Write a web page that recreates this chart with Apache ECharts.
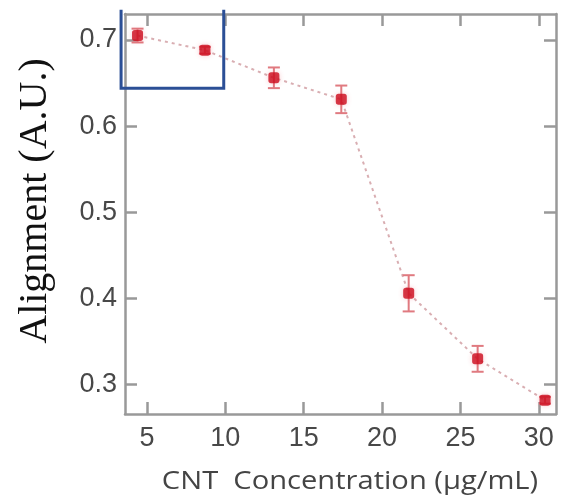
<!DOCTYPE html>
<html>
<head>
<meta charset="utf-8">
<script src="https://cdn.jsdelivr.net/npm/echarts@6/dist/echarts.min.js"></script>
<style>html,body{margin:0;padding:0;background:#fff;}#c{width:564px;height:501px;}</style>
</head>
<body>
<div id="c"></div>
<script>
// Data
var concentration = [4.4, 8.7, 13.1, 17.4, 21.7, 26.1, 30.4];
var alignment = [0.705, 0.688, 0.656, 0.631, 0.406, 0.330, 0.282];
var errorBar = [0.008, 0.004, 0.012, 0.016, 0.021, 0.015, 0.004];
var xTicks = [5, 10, 15, 20, 25, 30];
var yTicks = [0.3, 0.4, 0.5, 0.6, 0.7];
var xRange = [3.6, 31.1];
var yRange = [0.266, 0.730];
var highlightX = [3.35, 9.9];
var highlightY = [0.644, 0.735];
var yTitle = 'Alignment (A.U.)';
var xTitle = 'CNT  Concentration (\u03bcg/mL)';

var points = concentration.map(function (x, i) { return [x, alignment[i]]; });
var errData = concentration.map(function (x, i) { return [x, alignment[i] - errorBar[i], alignment[i] + errorBar[i]]; });

var axisColor = '#999';
var labelFont = { color: '#484848', fontFamily: 'Liberation Sans', fontSize: 27 };
function xAx(pos, showLabel) {
  return {
    type: 'value', position: pos, min: xRange[0], max: xRange[1],
    axisLine: { show: true, onZero: false, lineStyle: { color: axisColor, width: 2.5 } },
    axisTick: { show: true, inside: true, length: 12, customValues: xTicks, lineStyle: { color: axisColor, width: 2.5 } },
    axisLabel: Object.assign({ show: showLabel, customValues: xTicks, margin: 11 }, labelFont),
    splitLine: { show: false }
  };
}
function yAx(pos, showLabel) {
  return {
    type: 'value', position: pos, min: yRange[0], max: yRange[1],
    axisLine: { show: true, onZero: false, lineStyle: { color: axisColor, width: 2.5 } },
    axisTick: { show: true, inside: true, length: 12, customValues: yTicks, lineStyle: { color: axisColor, width: 2.5 } },
    axisLabel: Object.assign({ show: showLabel, customValues: yTicks, margin: 8,
      formatter: function (v) { return v.toFixed(1); } }, labelFont),
    splitLine: { show: false }
  };
}

var chart = echarts.init(document.getElementById('c'), null, { renderer: 'canvas' });
var option = {
  animation: false,
  backgroundColor: '#fff',
  grid: { left: 125, right: 8, top: 14, bottom: 87 },
  xAxis: [xAx('bottom', true), xAx('top', false)],
  yAxis: [yAx('left', true), yAx('right', false)],
  series: [
    {
      type: 'line', data: points, xAxisIndex: 0, yAxisIndex: 0, symbol: 'none', z: 2,
      lineStyle: { color: '#d9aeb2', width: 2, type: [3, 4] }
    },
    {
      type: 'custom', xAxisIndex: 0, yAxisIndex: 0, z: 3, data: errData,
      renderItem: function (params, api) {
        var x = api.value(0);
        var lo = api.coord([x, api.value(1)]);
        var hi = api.coord([x, api.value(2)]);
        var w = 6;
        var st = { stroke: '#e07a80', lineWidth: 2 };
        return { type: 'group', children: [
          { type: 'line', shape: { x1: lo[0], y1: lo[1], x2: hi[0], y2: hi[1] }, style: st },
          { type: 'line', shape: { x1: lo[0] - w, y1: lo[1], x2: lo[0] + w, y2: lo[1] }, style: st },
          { type: 'line', shape: { x1: hi[0] - w, y1: hi[1], x2: hi[0] + w, y2: hi[1] }, style: st }
        ] };
      }
    },
    {
      type: 'scatter', data: points, xAxisIndex: 0, yAxisIndex: 0, z: 4,
      symbol: 'roundRect', symbolSize: 11,
      itemStyle: { color: '#cc0a1c', shadowBlur: 5, shadowColor: 'rgba(235,90,105,0.4)' }
    }
  ],
  graphic: [
    { type: 'text', x: 35, y: 201, rotation: Math.PI / 2,
      style: { text: yTitle, fill: '#111', font: '40px "Liberation Serif"', align: 'center', verticalAlign: 'middle' } },
    { type: 'text', x: 350, y: 482, scaleX: 1.12,
      style: { text: xTitle, fill: '#444', font: '26px "Open Sans"', align: 'center', verticalAlign: 'middle' } }
  ]
};
chart.setOption(option);

var p1 = chart.convertToPixel({ xAxisIndex: 0, yAxisIndex: 0 }, [highlightX[0], highlightY[1]]);
var p2 = chart.convertToPixel({ xAxisIndex: 0, yAxisIndex: 0 }, [highlightX[1], highlightY[0]]);
option.graphic.push({
  type: 'polyline', z: 10,
  shape: { points: [[p1[0], p1[1]], [p1[0], p2[1]], [p2[0], p2[1]], [p2[0], p1[1]]] },
  style: { stroke: '#2b4f96', lineWidth: 3, fill: null }
});
chart.setOption({ graphic: option.graphic });
</script>
</body>
</html>
